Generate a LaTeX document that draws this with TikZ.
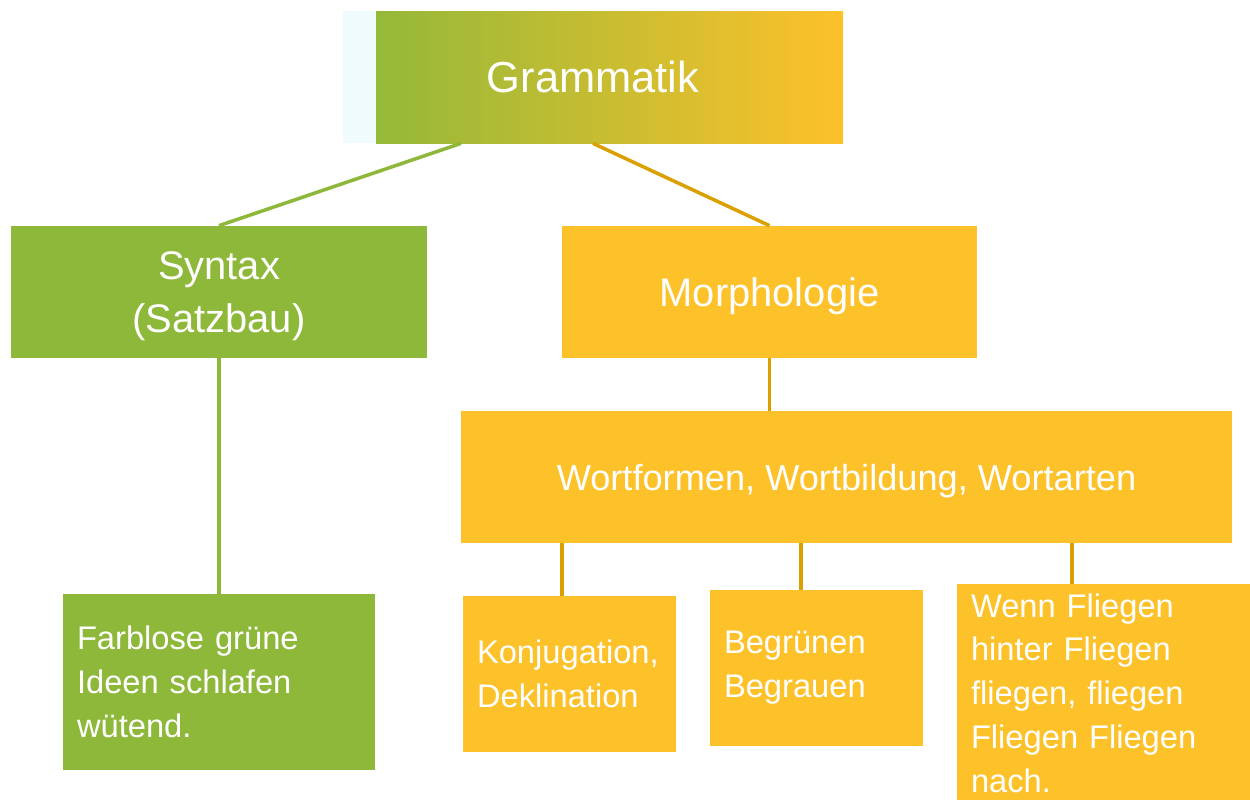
\documentclass[tikz,border=0pt]{standalone}
\usepackage{fontspec}
\setmainfont{Liberation Sans}
\definecolor{lgreen}{HTML}{8DB83A}
\definecolor{lyellow}{HTML}{FDC12A}
\definecolor{lgold}{HTML}{DAA000}
\definecolor{lcyan}{HTML}{F0FBFE}
\begin{document}
\begin{tikzpicture}[
    box/.style={rectangle, minimum height=2.64cm, text=white, align=center, inner sep=0pt, text depth=0pt},
    leaf/.style={rectangle, text=white, align=left, inner xsep=0.28cm, inner ysep=0pt, font=\fontsize{18.6}{24.9}\selectfont},
    gline/.style={draw=lgreen, line width=2pt},
    oline/.style={draw=lgold, line width=2pt}
]
    \useasboundingbox (0,0) rectangle (25,-15.98);
    \node[box, fill=lcyan, minimum width=10cm, font=\fontsize{24.7}{30}\selectfont,
          path picture={\shade[left color=lgreen, right color=lyellow]
              ([xshift=0.66cm]path picture bounding box.south west) rectangle (path picture bounding box.north east);}]
          (gram) at (11.86,-1.54) {Grammatik};
    \node[box, fill=lgreen, minimum width=8.32cm, font=\fontsize{22.7}{30.6}\selectfont] (syn) at (4.38,-5.84) {Syntax\\(Satzbau)};
    \node[box, fill=lyellow, minimum width=8.3cm, font=\fontsize{22.7}{30.6}\selectfont] (morph) at (15.39,-5.84) {Morphologie};
    \node[box, fill=lyellow, minimum width=15.42cm, font=\fontsize{20.6}{26}\selectfont] (wort) at (16.93,-9.54) {Wortformen, Wortbildung, Wortarten};

    \node[leaf, fill=lgreen, text width=5.68cm, minimum height=3.52cm] (farb) at (4.38,-13.64) {Farblose grüne\\Ideen schlafen\\wütend.};
    \node[leaf, fill=lyellow, text width=3.7cm, minimum height=3.12cm] (konj) at (11.39,-13.48) {Konjugation,\\Deklination};
    \node[leaf, fill=lyellow, text width=3.7cm, minimum height=3.12cm] (begr) at (16.33,-13.36) {Begrünen\\Begrauen};
    \node[leaf, fill=lyellow, text width=5.44cm, minimum height=4.36cm] (wenn) at (22.14,-13.86) {Wenn Fliegen\\hinter Fliegen\\fliegen, fliegen\\Fliegen Fliegen\\nach.};

    % connectors
    \draw[gline] ([xshift=-2.64cm]gram.south) -- (syn.north);
    \draw[oline] (gram.south) -- (morph.north);
    \draw[gline] (syn.south) -- (farb.north);
    \draw[oline] (morph.south) -- (morph.south |- wort.north);
    \draw[oline] ([xshift=-0.15cm]konj.north) -- ([xshift=-0.15cm]konj.north |- wort.south);
    \draw[oline] ([xshift=-0.31cm]begr.north) -- ([xshift=-0.31cm]begr.north |- wort.south);
    \draw[oline] ([xshift=-0.7cm]wenn.north) -- ([xshift=-0.7cm]wenn.north |- wort.south);
\end{tikzpicture}
\end{document}
